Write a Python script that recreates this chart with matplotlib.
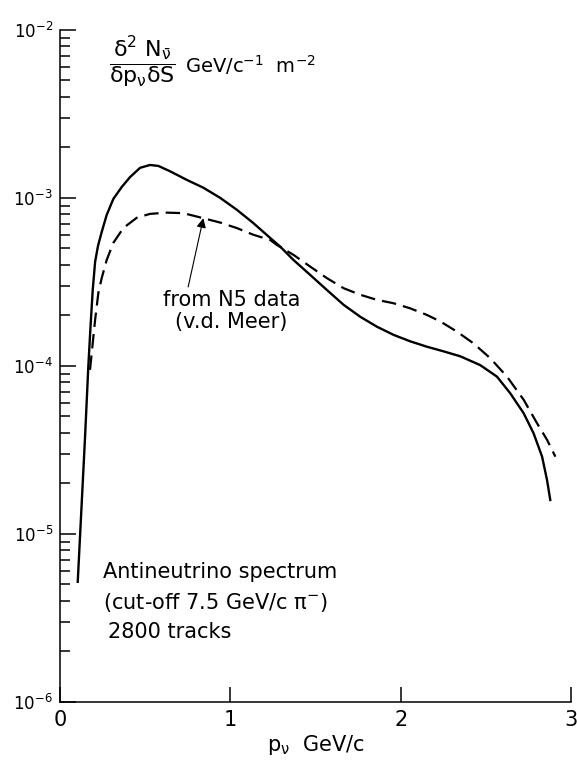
import numpy as np
import matplotlib
matplotlib.use('Agg')
import matplotlib.pyplot as plt

plt.rcParams['font.family'] = ['DejaVu Sans']
plt.rcParams['mathtext.default'] = 'regular'

# Antineutrino spectrum (solid line)
p_solid = [0.104, 0.147, 0.166, 0.179, 0.192, 0.206, 0.223, 0.245, 0.274, 0.313,
           0.362, 0.411, 0.470, 0.528, 0.577, 0.646, 0.744, 0.841, 0.940, 1.038,
           1.133, 1.233, 1.292, 1.370, 1.468, 1.566, 1.664, 1.762, 1.860, 1.957,
           2.055, 2.153, 2.251, 2.349, 2.466, 2.564, 2.642, 2.721, 2.779, 2.829,
           2.858, 2.877]
n_solid = [5.18e-6, 3.78e-5, 9.86e-5, 1.71e-4, 2.83e-4, 4.16e-4, 5.18e-4, 6.28e-4, 7.92e-4, 9.86e-4,
           1.16e-3, 1.33e-3, 1.51e-3, 1.57e-3, 1.55e-3, 1.44e-3, 1.28e-3, 1.15e-3, 1.00e-3, 8.49e-4,
           7.10e-4, 5.78e-4, 5.13e-4, 4.27e-4, 3.48e-4, 2.83e-4, 2.31e-4, 1.96e-4, 1.71e-4, 1.53e-4,
           1.40e-4, 1.30e-4, 1.22e-4, 1.14e-4, 1.01e-4, 8.63e-5, 6.87e-5, 5.22e-5, 3.97e-5, 2.88e-5,
           2.09e-5, 1.59e-5]

# from N5 data (v.d. Meer), dashed line
p_n5 = [0.176, 0.186, 0.197, 0.206, 0.225, 0.245, 0.274, 0.313, 0.372, 0.450,
        0.528, 0.627, 0.724, 0.841, 0.940, 1.038, 1.135, 1.233, 1.272, 1.370,
        1.468, 1.566, 1.664, 1.762, 1.860, 1.957, 2.055, 2.153, 2.231, 2.329,
        2.427, 2.525, 2.623, 2.721, 2.799, 2.858, 2.907]
n_n5 = [9.47e-5, 1.19e-4, 1.53e-4, 1.88e-4, 2.72e-4, 3.34e-4, 4.27e-4, 5.40e-4, 6.62e-4, 7.61e-4,
        8.03e-4, 8.17e-4, 8.11e-4, 7.57e-4, 7.13e-4, 6.61e-4, 6.03e-4, 5.62e-4, 5.25e-4, 4.58e-4,
        3.90e-4, 3.33e-4, 2.90e-4, 2.65e-4, 2.47e-4, 2.36e-4, 2.20e-4, 2.01e-4, 1.84e-4, 1.60e-4,
        1.36e-4, 1.11e-4, 8.63e-5, 6.28e-5, 4.56e-5, 3.63e-5, 2.88e-5]

x_ticks = [0, 1, 2, 3]

fig = plt.figure(figsize=(5.77, 7.67), dpi=100)
ax = fig.add_axes([0.104, 0.085, 0.886, 0.876])

ax.plot(p_solid, n_solid, color='black', lw=1.7, solid_joinstyle='round')
ax.plot(p_n5, n_n5, color='black', lw=1.6, dashes=(6.5, 3.2))

ax.set_yscale('log')
ax.set_xlim(0, 3)
ax.set_ylim(1e-6, 1e-2)
ax.set_xticks(x_ticks)
ax.set_xticklabels([str(t) for t in x_ticks], fontsize=15)

for s in ['top', 'right']:
    ax.spines[s].set_visible(False)
for s in ['left', 'bottom']:
    ax.spines[s].set_linewidth(1.1)

ax.tick_params(axis='y', which='major', direction='in', length=11.5, width=1.1, labelsize=12, pad=5)
ax.tick_params(axis='y', which='minor', direction='in', length=7, width=1.1)
ax.tick_params(axis='x', which='major', direction='in', length=11, width=1.1, pad=6)
ax.tick_params(axis='x', which='minor', bottom=False)

ax.set_xlabel(r'p$_{\nu}$  GeV/c', fontsize=15, labelpad=2)

# formula for the y quantity
ax.text(0.285, 6.4e-3,
        r'$\dfrac{\delta^2\ N_{\bar{\nu}}}{\delta p_{\nu}\delta S}$',
        fontsize=16, ha='left', va='center')
ax.text(0.735, 6.2e-3, r'GeV/c$^{-1}$  m$^{-2}$', fontsize=14, ha='left', va='center')

# arrow to the N5 curve
ax.annotate('', xy=(0.841, 7.57e-4), xytext=(0.752, 2.95e-4),
            arrowprops=dict(arrowstyle='-|>', color='black', lw=0.8,
                            mutation_scale=14, shrinkA=0, shrinkB=0))
ax.text(1.007, 2.12e-4, 'from N5 data\n(v.d. Meer)', fontsize=15,
        ha='center', va='center', multialignment='center', linespacing=1.15)

ax.text(0.252, 5.94e-6, 'Antineutrino spectrum', fontsize=15, ha='left', va='center')
ax.text(0.252, 3.88e-6, r'(cut-off 7.5 GeV/c $\pi^{-}$)', fontsize=15, ha='left', va='center')
ax.text(0.282, 2.61e-6, '2800 tracks', fontsize=15, ha='left', va='center')

fig.savefig('out.png', dpi=100)
